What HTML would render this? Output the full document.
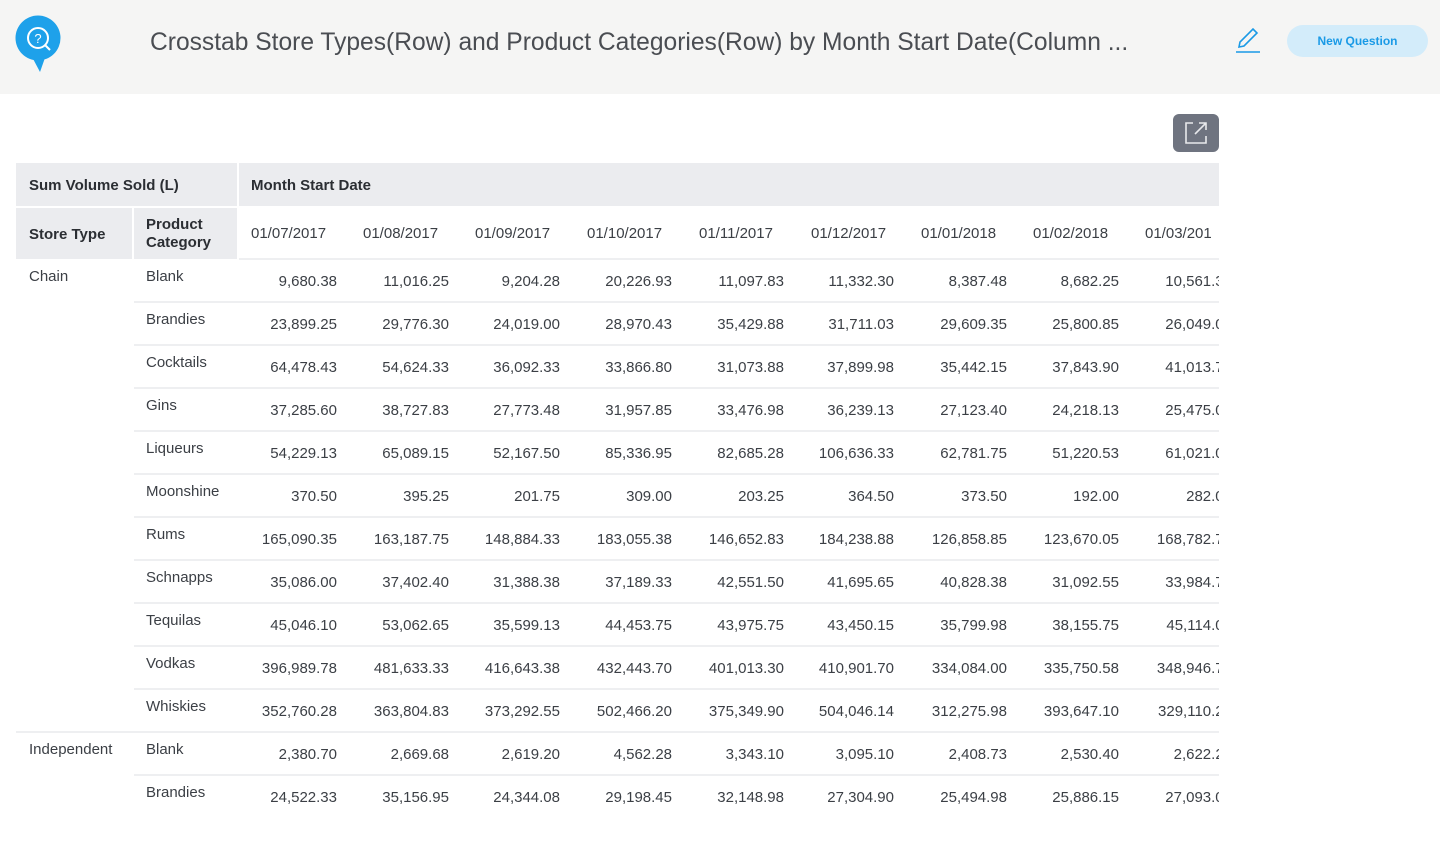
<!DOCTYPE html>
<html><head><meta charset="utf-8"><style>
*{box-sizing:border-box;margin:0;padding:0}
body{width:1440px;height:846px;overflow:hidden;background:#fff;font-family:"Liberation Sans",sans-serif;color:#3b3f45;position:relative}
.top{position:absolute;left:0;top:0;width:1440px;height:94px;background:#f5f5f4}
.title{position:absolute;left:150px;top:29px;font-size:24.6px;color:#4a4d52;white-space:nowrap}
.btn{position:absolute;left:1287px;top:25px;width:141px;height:32px;border-radius:16px;background:#d3ecfa;color:#1a9ae6;font-weight:bold;font-size:12px;text-align:center;line-height:33px}
.ext{position:absolute;left:1173px;top:114px;width:46px;height:38px;border-radius:6px;background:#6f7480}
.c{position:absolute;font-size:15px;white-space:nowrap}
.h{background:#ebecef;position:absolute}
.b{font-weight:bold;color:#2b2e33}
.r{text-align:right}
.line{position:absolute;height:2px;background:#eeeff1}
</style></head><body>
<div class="top"></div>
<svg style="position:absolute;left:15px;top:15px" width="48" height="58" viewBox="0 0 48 58"><circle cx="23" cy="23" r="22.5" fill="#1ea1ea"/><path d="M16 40 L25 57 L31 40Z" fill="#1ea1ea"/><circle cx="23" cy="23" r="10" fill="none" stroke="#fff" stroke-width="2"/><line x1="30" y1="30" x2="35" y2="35" stroke="#fff" stroke-width="2"/><text x="23" y="28" font-size="13" fill="#fff" text-anchor="middle" font-family="Liberation Sans">?</text></svg>
<div class="title">Crosstab Store Types(Row) and Product Categories(Row) by Month Start Date(Column ...</div>
<svg style="position:absolute;left:1234px;top:26px" width="28" height="28" viewBox="0 0 28 28"><path d="M5 21 L6 16 L19 3 L23 7 L10 20 Z" fill="none" stroke="#1a9ae6" stroke-width="1.6"/><line x1="2" y1="26" x2="26" y2="26" stroke="#1a9ae6" stroke-width="1.6"/></svg>
<div class="btn">New Question</div>
<div class="ext"><svg width="46" height="38" viewBox="0 0 46 38"><path d="M20 9 H13 V29 H33 V22" fill="none" stroke="#e8e9ec" stroke-width="1.6"/><path d="M22 20 L33 9 M26 9 H33 V16" fill="none" stroke="#e8e9ec" stroke-width="1.6"/></svg></div>
<div id="t"></div>
<script>
var t=document.getElementById('t'),h='';
function d(x,y,w,hh,cls,txt,st){h+='<div class="'+cls+'" style="left:'+x+'px;top:'+y+'px;width:'+w+'px;height:'+hh+'px;'+(st||'')+'">'+txt+'</div>';}
d(16,163,221,43,'h','');d(239,163,980,43,'h','');
d(16,208,116,51,'h','');d(134,208,103,51,'h','');
h+='<div class="c b" style="left:29px;top:177px">Sum Volume Sold (L)</div><div class="c b" style="left:251px;top:177px">Month Start Date</div>';
h+='<div class="c b" style="left:29px;top:226px">Store Type</div><div class="c b" style="left:146px;top:216px;line-height:18px">Product<br>Category</div>';
var dates=['01/07/2017','01/08/2017','01/09/2017','01/10/2017','01/11/2017','01/12/2017','01/01/2018','01/02/2018','01/03/201'];
var xs=[239,351,463,575,687,799,909,1021,1133];
var rights=[337,449,560,672,784,894,1007,1119,1232];
dates.forEach(function(s,i){h+='<div class="c" style="left:'+(xs[i]+12)+'px;top:225px;width:'+(i==8?86:110)+'px;overflow:hidden">'+s+'</div>';});
var cats=['Blank','Brandies','Cocktails','Gins','Liqueurs','Moonshine','Rums','Schnapps','Tequilas','Vodkas','Whiskies','Blank','Brandies'];
var data=[
['9,680.38','11,016.25','9,204.28','20,226.93','11,097.83','11,332.30','8,387.48','8,682.25','10,561.38'],
['23,899.25','29,776.30','24,019.00','28,970.43','35,429.88','31,711.03','29,609.35','25,800.85','26,049.00'],
['64,478.43','54,624.33','36,092.33','33,866.80','31,073.88','37,899.98','35,442.15','37,843.90','41,013.75'],
['37,285.60','38,727.83','27,773.48','31,957.85','33,476.98','36,239.13','27,123.40','24,218.13','25,475.00'],
['54,229.13','65,089.15','52,167.50','85,336.95','82,685.28','106,636.33','62,781.75','51,220.53','61,021.00'],
['370.50','395.25','201.75','309.00','203.25','364.50','373.50','192.00','282.00'],
['165,090.35','163,187.75','148,884.33','183,055.38','146,652.83','184,238.88','126,858.85','123,670.05','168,782.75'],
['35,086.00','37,402.40','31,388.38','37,189.33','42,551.50','41,695.65','40,828.38','31,092.55','33,984.75'],
['45,046.10','53,062.65','35,599.13','44,453.75','43,975.75','43,450.15','35,799.98','38,155.75','45,114.00'],
['396,989.78','481,633.33','416,643.38','432,443.70','401,013.30','410,901.70','334,084.00','335,750.58','348,946.75'],
['352,760.28','363,804.83','373,292.55','502,466.20','375,349.90','504,046.14','312,275.98','393,647.10','329,110.25'],
['2,380.70','2,669.68','2,619.20','4,562.28','3,343.10','3,095.10','2,408.73','2,530.40','2,622.25'],
['24,522.33','35,156.95','24,344.08','29,198.45','32,148.98','27,304.90','25,494.98','25,886.15','27,093.00']];
for(var r=0;r<13;r++){var y=259+r*43;
 var lx=(r==10)?16:134; if(r<12) h+='<div class="line" style="left:'+lx+'px;top:'+(y+42)+'px;width:'+(1219-lx)+'px"></div>';
 if(r==0)h+='<div class="line" style="left:239px;top:258px;width:980px"></div>';
 h+='<div class="c" style="left:146px;top:'+(y+9)+'px">'+cats[r]+'</div>';
 for(var i=0;i<9;i++)h+='<div class="c r" style="left:'+(rights[i]-110)+'px;top:'+(y+14)+'px;width:110px">'+data[r][i]+'</div>';
}
h+='<div class="c" style="left:29px;top:268px">Chain</div><div class="c" style="left:29px;top:741px">Independent</div>';
h+='<div style="position:absolute;left:1219px;top:255px;width:30px;height:580px;background:#fff"></div>';
t.innerHTML=h;
</script>
</body></html>
